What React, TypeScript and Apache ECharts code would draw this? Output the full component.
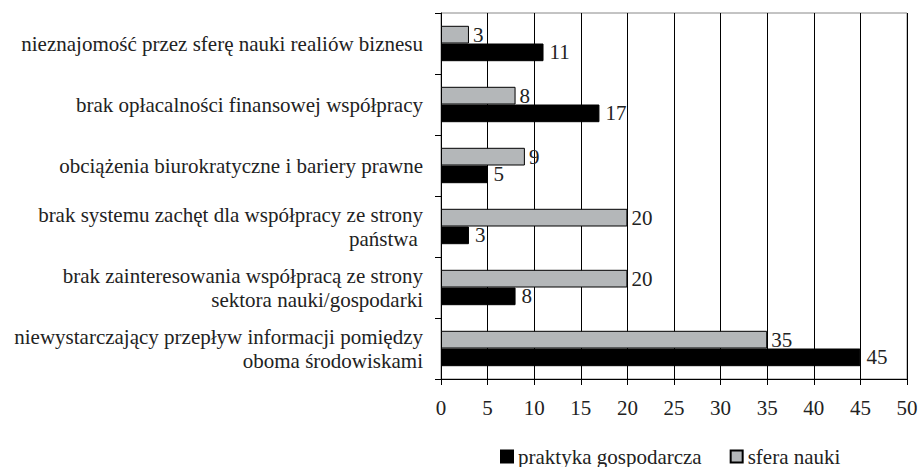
import React, { useEffect, useRef } from "react";
import * as echarts from "echarts";

const categories = [
  "nieznajomość przez sferę nauki realiów biznesu",
  "brak opłacalności finansowej współpracy",
  "obciążenia biurokratyczne i bariery prawne",
  "brak systemu zachęt dla współpracy ze strony\npaństwa ",
  "brak zainteresowania współpracą ze strony\nsektora nauki/gospodarki",
  "niewystarczający przepływ informacji pomiędzy\noboma środowiskami",
];
const sferaNauki = [3, 8, 9, 20, 20, 35];
const praktykaGospodarcza = [11, 17, 5, 3, 8, 45];
const xTicks = [0, 5, 10, 15, 20, 25, 30, 35, 40, 45, 50];

const FONT = "Liberation Serif";
const TEXT = "#222";
const FS = 21;

export default function App() {
  const ref = useRef<HTMLDivElement>(null);
  useEffect(() => {
    if (!ref.current) return;
    const chart = echarts.init(ref.current, undefined, { renderer: "svg" });
    chart.setOption({
      animation: false,
      backgroundColor: "#fff",
      textStyle: { fontFamily: FONT },
      grid: {
        left: 441,
        right: 12,
        top: 13,
        bottom: 88,
        show: true,
        borderColor: "#888",
        borderWidth: 1,
        containLabel: false,
        outerBoundsMode: "none",
      },
      legend: {
        left: 495,
        top: 441,
        itemWidth: 12,
        itemHeight: 12,
        itemGap: 28,
        icon: "rect",
        data: ["praktyka gospodarcza", "sfera nauki"],
        textStyle: { fontFamily: FONT, fontSize: FS, color: TEXT },
      },
      xAxis: {
        type: "value",
        min: xTicks[0],
        max: xTicks[xTicks.length - 1],
        interval: 5,
        axisLine: { show: true, lineStyle: { color: "#000", width: 1 } },
        axisTick: { show: true, length: 6, lineStyle: { color: "#000" } },
        axisLabel: { fontFamily: FONT, fontSize: FS, color: TEXT, margin: 18 },
        splitLine: { show: true, lineStyle: { color: "#000", width: 1 } },
      },
      yAxis: {
        type: "category",
        inverse: true,
        data: categories,
        axisLine: { show: true, lineStyle: { color: "#000", width: 1 } },
        axisTick: { show: true, length: 6, lineStyle: { color: "#000" } },
        axisLabel: {
          fontFamily: FONT,
          fontSize: FS,
          color: TEXT,
          margin: 18,
          lineHeight: 24,
          align: "right",
        },
      },
      series: [
        {
          name: "sfera nauki",
          type: "bar",
          data: sferaNauki,
          barGap: "0%",
          barCategoryGap: "42%",
          itemStyle: { color: "#b4b7b9", borderColor: "#000", borderWidth: 1 },
          label: {
            show: true,
            position: "right",
            distance: 4,
            fontFamily: FONT,
            fontSize: FS,
            color: TEXT,
          },
        },
        {
          name: "praktyka gospodarcza",
          type: "bar",
          data: praktykaGospodarcza,
          barGap: "0%",
          barCategoryGap: "42%",
          itemStyle: { color: "#000", borderColor: "#000", borderWidth: 1 },
          label: {
            show: true,
            position: "right",
            distance: 6,
            fontFamily: FONT,
            fontSize: FS,
            color: TEXT,
          },
        },
      ],
    });
    return () => chart.dispose();
  }, []);
  return (
    <div
      ref={ref}
      style={{ position: "fixed", left: 0, top: 0, width: 919, height: 467 }}
    />
  );
}
